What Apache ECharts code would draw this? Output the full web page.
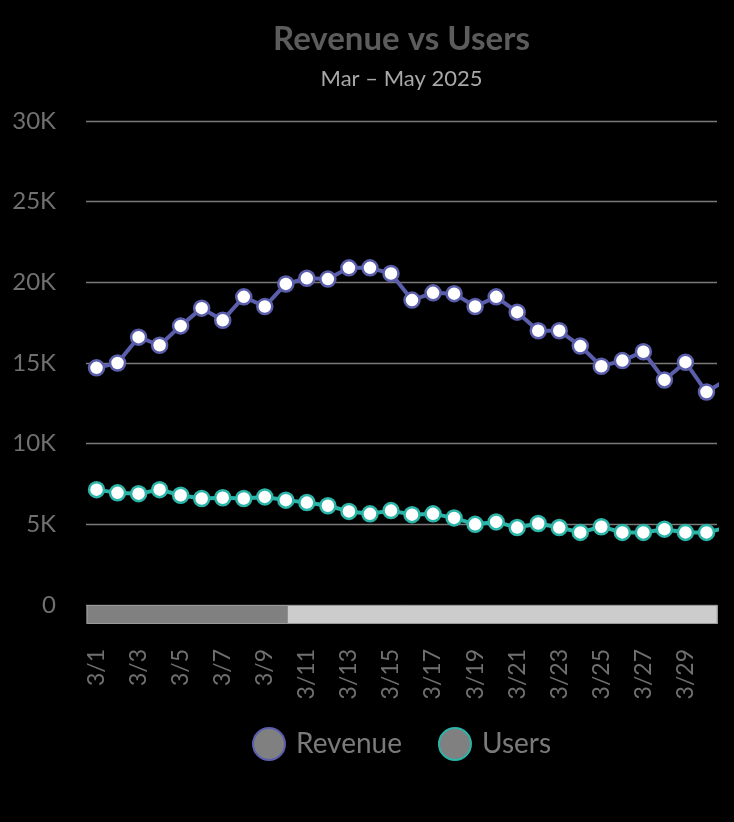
<!DOCTYPE html>
<html>
<head>
<meta charset="utf-8">
<title>Revenue vs Users</title>
<script src="https://cdn.jsdelivr.net/npm/echarts@6/dist/echarts.min.js"></script>
<style>
  html, body { margin: 0; padding: 0; background: #000; }
  #chart { width: 734px; height: 822px; }
</style>
</head>
<body>
<div id="chart"></div>
<script>
// Mar 1 – May 31 2025 (92 days); only March is in view, so only March is read
var monthDays = [['3', 31], ['4', 30], ['5', 31]];
var dates = [];
monthDays.forEach(function (m) {
    for (var d = 1; d <= m[1]; d++) dates.push(m[0] + '/' + d);
});

// values (3/1 .. 3/31)
var revenue = [14700, 15000, 16600, 16100, 17300, 18400, 17650, 19100, 18500, 19900,
               20250, 20200, 20900, 20900, 20550, 18900, 19350, 19300, 18500, 19100,
               18150, 17000, 17000, 16050, 14800, 15150, 15700, 13950, 15050, 13200, 14000];
var users = [7150, 6950, 6900, 7150, 6800, 6600, 6650, 6600, 6700, 6500,
             6350, 6150, 5800, 5650, 5850, 5600, 5650, 5400, 5000, 5150,
             4800, 5050, 4800, 4500, 4850, 4500, 4500, 4700, 4500, 4500, 4800];

var yTicks = [0, 5000, 10000, 15000, 20000, 25000, 30000];

var FONT = 'Lato';
var chart = echarts.init(document.getElementById('chart'));

function lineSeries(name, data, color) {
    return {
        name: name,
        type: 'line',
        data: data,
        symbol: 'circle',
        symbolSize: 15,
        showAllSymbol: true,
        lineStyle: { color: color, width: 4 },
        itemStyle: { color: '#fff', borderColor: color, borderWidth: 2.5 }
    };
}

chart.setOption({
    backgroundColor: '#000',
    animation: false,
    title: {
        text: 'Revenue vs Users',
        subtext: 'Mar – May 2025',
        left: 396.5,
        top: 18,
        textAlign: 'center',
        itemGap: 12,
        textStyle: { fontFamily: FONT, fontSize: 33, fontWeight: 'bold', color: '#5c5c5c' },
        subtextStyle: { fontFamily: FONT, fontSize: 22, color: '#a8a8a8' }
    },
    legend: {
        bottom: 56,
        left: 247,
        icon: 'circle',
        itemWidth: 32,
        itemHeight: 32,
        itemGap: 36,
        textStyle: { fontFamily: FONT, fontSize: 28, color: '#7a7a7a', padding: [0, 0, 0, 6] },
        itemStyle: { color: '#808080', borderWidth: 2 },
        data: ['Revenue', 'Users']
    },
    grid: { left: 86, right: 17, top: 121, bottom: 217 },
    xAxis: {
        type: 'category',
        data: dates,
        boundaryGap: true,
        axisLine: { show: false },
        axisTick: { show: false },
        axisLabel: {
            rotate: 90,
            interval: 1,
            margin: 44,
            fontFamily: FONT,
            fontSize: 23,
            color: '#707070'
        }
    },
    yAxis: {
        type: 'value',
        min: 0,
        max: 30000,
        interval: 5000,
        axisLine: { show: false },
        axisTick: { show: false },
        splitLine: { lineStyle: { color: '#7a7a7a', width: 1.3 } },
        axisLabel: {
            margin: 30,
            fontFamily: FONT,
            fontSize: 24,
            color: '#707070',
            formatter: function (v) {
                return yTicks.indexOf(v) < 0 ? '' : (v === 0 ? '0' : (v / 1000) + 'K');
            }
        }
    },
    dataZoom: [{
        type: 'slider',
        xAxisIndex: 0,
        filterMode: 'none',
        startValue: 0,
        endValue: 29,
        left: 86,
        right: 17,
        top: 605,
        height: 19,
        showDetail: false,
        showDataShadow: false,
        brushSelect: false,
        zoomLock: true,
        backgroundColor: '#cccccc',
        borderColor: '#999',
        fillerColor: '#808080',
        handleSize: 0,
        handleStyle: { opacity: 0 },
        moveHandleSize: 0,
        moveHandleStyle: { opacity: 0 },
        emphasis: { handleStyle: { opacity: 0 }, moveHandleStyle: { opacity: 0 } }
    }],
    series: [
        lineSeries('Revenue', revenue, '#5a5eab'),
        lineSeries('Users', users, '#2ab5a8')
    ]
});
</script>
</body>
</html>
